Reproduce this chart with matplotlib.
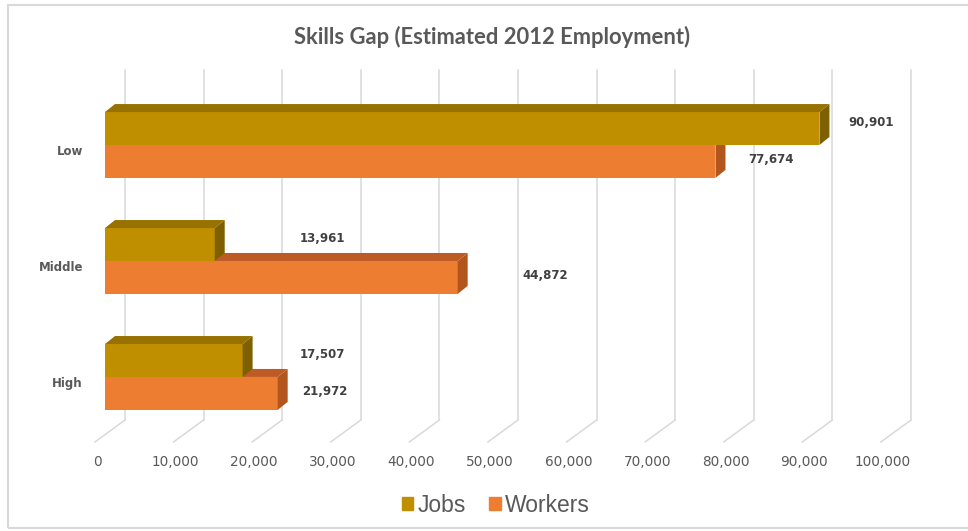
import matplotlib
matplotlib.use('Agg')
import matplotlib.pyplot as plt
from matplotlib.patches import Polygon, Patch, Rectangle

# 数据
categories = ['High', 'Middle', 'Low']
jobs = [17507, 13961, 90901]
workers = [21972, 44872, 77674]
tick_values = [0, 10000, 20000, 30000, 40000, 50000, 60000, 70000, 80000, 90000, 100000]
# 数据标签的横向位置（与原图一致）
jobs_label_x = [27700, 27700, 97500]
workers_label_x = [28000, 56000, 84700]

jobs_colors = ('#BF8F00', '#7F6000', '#977200')      # 正面, 侧面, 顶面
workers_colors = ('#ED7D31', '#B2561E', '#BE5B25')

fig = plt.figure(figsize=(9.68, 5.31), dpi=100)
ax = fig.add_axes([0, 0, 1, 1])
ax.set_xlim(-13360, 109800)
ax.set_ylim(-1.328, 3.25)
ax.axis('off')

bar_h = 0.284          # 条形高度
dx, dy = 1270, 0.069   # 条形厚度
wall_dx = 2545         # 背景墙偏移
floor_dx = -1272       # 地板前沿偏移
floor_back, floor_front, grid_top = -0.371, -0.560, 2.647

# 网格线（背景墙 + 地板）
for v in tick_values:
    ax.plot([v + wall_dx, v + wall_dx], [floor_back, grid_top], color='#D9D9D9', lw=1.1, zorder=1)
    ax.plot([v + wall_dx, v + floor_dx], [floor_back, floor_front], color='#D9D9D9', lw=1.1, zorder=1)
    ax.text(v + floor_dx + 250, -0.733, f'{v:,}', ha='center', va='center',
            fontsize=9.8, color='#595959')


def bar3d(y0, v, cols, z):
    front, side, top = cols
    ax.barh(y0 + bar_h / 2, v, height=bar_h, left=0, color=front, lw=0, zorder=z)
    ax.add_patch(Polygon([(v, y0), (v + dx, y0 + dy), (v + dx, y0 + bar_h + dy), (v, y0 + bar_h)],
                         closed=True, color=side, lw=0, zorder=z))
    ax.add_patch(Polygon([(0, y0 + bar_h), (dx, y0 + bar_h + dy), (v + dx, y0 + bar_h + dy), (v, y0 + bar_h)],
                         closed=True, color=top, lw=0, zorder=z))


for i, cat in enumerate(categories):
    bar3d(i - bar_h, workers[i], workers_colors, 2 + i * 2)
    bar3d(i, jobs[i], jobs_colors, 3 + i * 2)
    ax.text(-2800, i - 0.06, cat, ha='right', va='center', fontsize=8.5,
            fontweight='bold', color='#595959')
    ax.text(jobs_label_x[i], i + bar_h / 2 + 0.05, f'{jobs[i]:,}', ha='center', va='center',
            fontsize=8.5, fontweight='bold', color='#404040', zorder=10)
    ax.text(workers_label_x[i], i - bar_h / 2 + 0.02, f'{workers[i]:,}', ha='center', va='center',
            fontsize=8.5, fontweight='bold', color='#404040', zorder=10)

fig.text(492 / 968, 1 - 37 / 531, 'Skills Gap (Estimated 2012 Employment)', ha='center', va='center',
         fontsize=15.8, fontweight='bold', color='#595959', family='Lato')

handles = [Patch(color=jobs_colors[0], label='Jobs'), Patch(color=workers_colors[0], label='Workers')]
fig.legend(handles=handles, loc='center', bbox_to_anchor=(496 / 968, 1 - 505 / 531), ncol=2,
           frameon=False, handlelength=0.5, handleheight=0.5, handletextpad=0.2, columnspacing=1.0,
           prop={'family': 'Liberation Sans', 'size': 16.5}, labelcolor='#595959')

# 外框
fig.patches.append(Rectangle((8 / 968, 3 / 531), 1.1, 1 - 8 / 531, transform=fig.transFigure,
                             fill=False, edgecolor='#D9D9D9', lw=1.5))

fig.savefig('out.png', dpi=100)
